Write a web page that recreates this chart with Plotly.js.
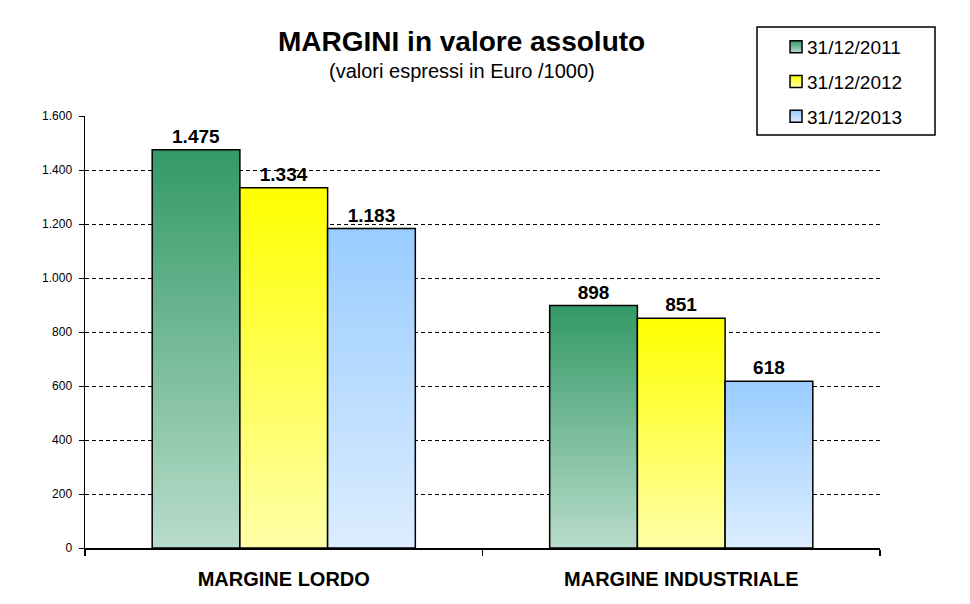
<!DOCTYPE html>
<html>
<head>
<meta charset="utf-8">
<script src="https://cdn.plot.ly/plotly-3.0.1.min.js"></script>
<style>
  html, body { margin: 0; padding: 0; background: #ffffff; }
  #chart { width: 970px; height: 604px; }
</style>
</head>
<body>
<div id="chart"></div>
<script>
// ---- Data ----
var categories = ["MARGINE LORDO", "MARGINE INDUSTRIALE"];
var seriesNames = ["31/12/2011", "31/12/2012", "31/12/2013"];
var values2011 = [1475, 898];
var values2012 = [1334, 851];
var values2013 = [1183, 618];
var yTickValues = [0, 200, 400, 600, 800, 1000, 1200, 1400, 1600];

// ---- Styles ----
var FONT = "Liberation Sans, Arial, sans-serif";
var topColors = ["#339966", "#ffff00", "#99ccff"];
var bottomColors = ["#b9dccb", "#ffffa8", "#dcedff"];

function barTrace(name, values, idx) {
  return {
    type: "bar",
    name: name,
    x: categories,
    y: values,
    legendgroup: "g" + idx,
    marker: { color: topColors[idx], line: { color: "#000000", width: 1.5 } },
    texttemplate: "%{y:,}",
    textposition: "outside",
    cliponaxis: false,
    textfont: { family: FONT, size: 19, color: "#000000", weight: "bold" },
    hoverinfo: "x+y+name"
  };
}

var data = [
  barTrace(seriesNames[0], values2011, 0),
  barTrace(seriesNames[1], values2012, 1),
  barTrace(seriesNames[2], values2013, 2)
];

var layout = {
  width: 970,
  height: 604,
  paper_bgcolor: "#ffffff",
  plot_bgcolor: "#ffffff",
  separators: ",.",
  font: { family: FONT, color: "#000000" },
  margin: { l: 85, r: 90, t: 116, b: 56, pad: 0 },
  barmode: "group",
  bargap: 0.338,
  bargroupgap: 0,
  showlegend: true,
  legend: {
    x: 0.8579, xanchor: "left",
    y: 1.2037, yanchor: "top",
    bgcolor: "rgba(0,0,0,0)",
    borderwidth: 0,
    traceorder: "grouped",
    tracegroupgap: 7,
    font: { family: FONT, size: 19, color: "#000000" }
  },
  xaxis: {
    type: "category",
    showline: true, linecolor: "#000000", linewidth: 1.5,
    ticks: "outside", tickson: "boundaries", ticklen: 6, tickwidth: 1.5, tickcolor: "#000000",
    ticklabelstandoff: 12,
    showgrid: false, zeroline: false,
    tickfont: { family: FONT, size: 20, color: "#000000", weight: "bold" },
    fixedrange: true
  },
  yaxis: {
    range: [0, 1600],
    tickvals: yTickValues,
    tickformat: ",",
    showline: true, linecolor: "#000000", linewidth: 1.5,
    ticks: "outside", ticklen: 5, tickwidth: 1, tickcolor: "#000000",
    ticklabelstandoff: 4,
    showgrid: true, gridcolor: "#000000", gridwidth: 1, griddash: "4px,3px",
    zeroline: false,
    tickfont: { family: FONT, size: 12, color: "#000000" },
    fixedrange: true
  },
  shapes: [
    {
      type: "rect", xref: "paper", yref: "paper", layer: "above",
      x0: 0.8453, x1: 1.0692, y0: 0.956, y1: 1.206,
      line: { color: "#000000", width: 1.5 },
      fillcolor: "#ffffff"
    }
  ],
  annotations: [
    {
      text: "<b>MARGINI in valore assoluto</b>",
      xref: "paper", yref: "paper", x: 0.4742, y: 1.1713,
      xanchor: "center", yanchor: "middle", showarrow: false,
      font: { family: FONT, size: 28, color: "#000000" }
    },
    {
      text: "(valori espressi in Euro /1000)",
      xref: "paper", yref: "paper", x: 0.4742, y: 1.1042,
      xanchor: "center", yanchor: "middle", showarrow: false,
      font: { family: FONT, size: 20, color: "#000000" }
    }
  ]
};

var config = { displayModeBar: false, staticPlot: true, responsive: false };

function applyGradients(gd) {
  var svg = gd.querySelector("svg.main-svg");
  var ns = "http://www.w3.org/2000/svg";
  var defs = svg.querySelector("defs");
  if (!defs) { defs = document.createElementNS(ns, "defs"); svg.insertBefore(defs, svg.firstChild); }
  for (var i = 0; i < topColors.length; i++) {
    var id = "barGrad" + i;
    if (!document.getElementById(id)) {
      var lg = document.createElementNS(ns, "linearGradient");
      lg.setAttribute("id", id);
      lg.setAttribute("x1", "0"); lg.setAttribute("y1", "0");
      lg.setAttribute("x2", "0"); lg.setAttribute("y2", "1");
      var s1 = document.createElementNS(ns, "stop");
      s1.setAttribute("offset", "0"); s1.setAttribute("stop-color", topColors[i]);
      var s2 = document.createElementNS(ns, "stop");
      s2.setAttribute("offset", "1"); s2.setAttribute("stop-color", bottomColors[i]);
      lg.appendChild(s1); lg.appendChild(s2);
      defs.appendChild(lg);
    }
  }
  var traces = gd.querySelectorAll(".barlayer .trace");
  traces.forEach(function (t, i) {
    t.querySelectorAll(".point path").forEach(function (p) {
      p.style.fill = "url(#barGrad" + i + ")";
    });
  });
  var legItems = gd.querySelectorAll(".legend .traces");
  legItems.forEach(function (t, i) {
    t.querySelectorAll(".legendpoints path").forEach(function (p) {
      p.style.fill = "url(#barGrad" + i + ")";
      p.setAttribute("transform", "translate(29,0)");
    });
  });
}

Plotly.newPlot("chart", data, layout, config).then(function (gd) {
  applyGradients(gd);
});
</script>
</body>
</html>
